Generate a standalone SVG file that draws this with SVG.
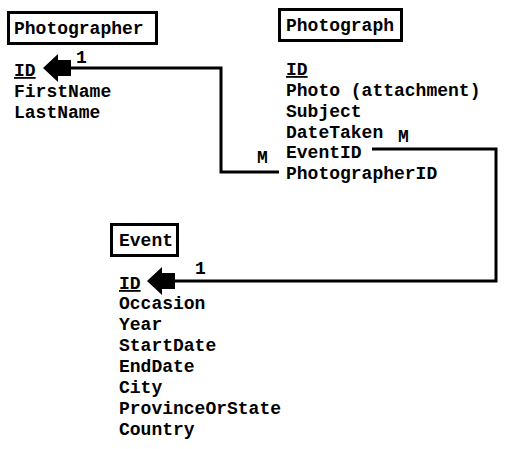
<svg xmlns="http://www.w3.org/2000/svg" width="510" height="449" viewBox="0 0 510 449">
<style>
text{font-family:"Liberation Mono","Courier New",monospace;font-weight:bold;font-size:18px;fill:#000}
.box{fill:#fff;stroke:#000;stroke-width:3}
.ln{fill:none;stroke:#000;stroke-width:3}
</style>
<defs>
<polygon id="ah" points="0,0 15,-14 15,-8 28,-8 28,8 15,8 15,14"/>
</defs>
<rect width="510" height="449" fill="#fff"/>
<g id="photographer">
<rect class="box" x="8.5" y="12.5" width="148" height="31"/>
<text x="14" y="34">Photographer</text>
<text x="14" y="76" text-decoration="underline">ID</text>
<text x="14" y="97">FirstName</text>
<text x="14" y="118">LastName</text>
</g>
<g id="photograph">
<rect class="box" x="279.5" y="9.5" width="122" height="31"/>
<text x="286" y="31">Photograph</text>
<text x="286" y="75" text-decoration="underline">ID</text>
<text x="286" y="96">Photo (attachment)</text>
<text x="286" y="117">Subject</text>
<text x="286" y="138">DateTaken</text>
<text x="286" y="158">EventID</text>
<text x="286" y="179">PhotographerID</text>
</g>
<g id="event">
<rect class="box" x="111.5" y="224.5" width="66" height="31"/>
<text x="119" y="246">Event</text>
<text x="119" y="289" text-decoration="underline">ID</text>
<text x="119" y="309">Occasion</text>
<text x="119" y="330">Year</text>
<text x="119" y="351">StartDate</text>
<text x="119" y="372">EndDate</text>
<text x="119" y="393">City</text>
<text x="119" y="414">ProvinceOrState</text>
<text x="119" y="435">Country</text>
</g>
<g id="connectors">
<polyline class="ln" points="279,172 221,172 221,68 68,68"/>
<use href="#ah" x="43" y="68"/>
<text x="76" y="63">1</text>
<text x="257" y="163">M</text>
<polyline class="ln" points="372,149 496,149 496,281 172,281"/>
<use href="#ah" x="147" y="281"/>
<text x="195" y="274">1</text>
<text x="398" y="142">M</text>
</g>
</svg>
